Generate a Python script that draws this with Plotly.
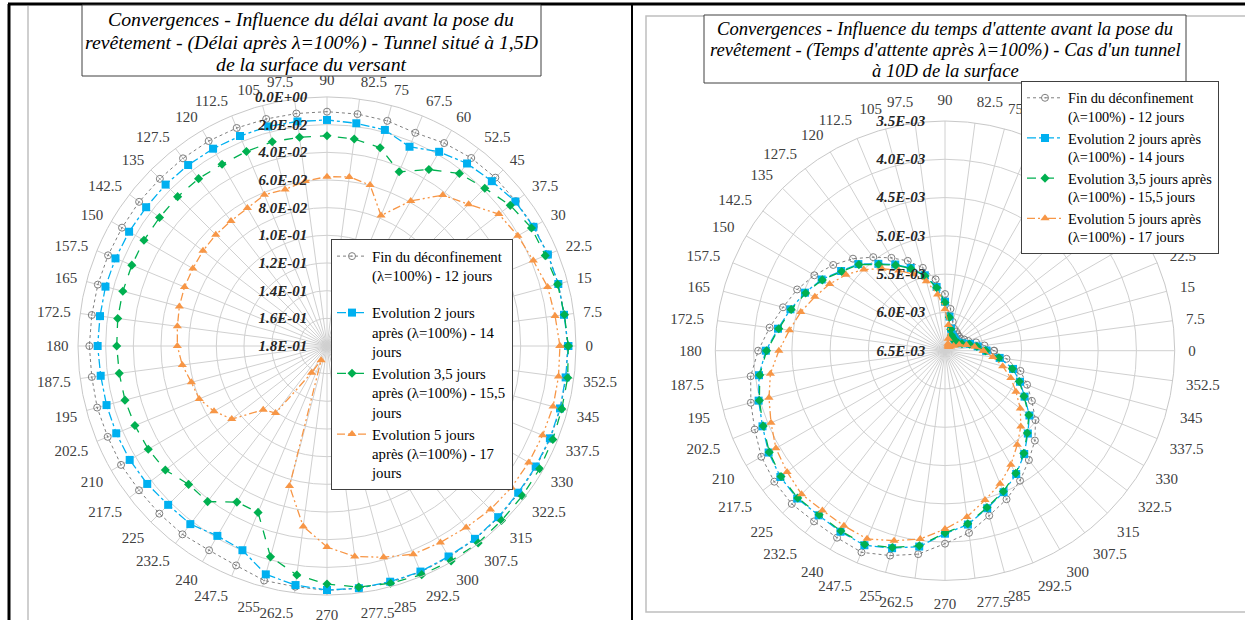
import plotly.graph_objects as go

# ---------------- data ----------------
angles = [i * 7.5 for i in range(48)]
angle_labels = [("%g" % a) for a in angles]

# Left chart (Tunnel situé à 1,5D) - convergences
left_fin = [0.0062, 0.0068, 0.0068, 0.0070, 0.0073, 0.0080, 0.0079, 0.0087, 0.0106, 0.0132, 0.0115, 0.0109,
            0.0106, 0.0105, 0.0101, 0.0094, 0.0089, 0.0090, 0.0091, 0.0088, 0.0089, 0.0087, 0.0085, 0.0085,
            0.0082, 0.0085, 0.0080, 0.0084, 0.0081, 0.0087, 0.0086, 0.0084, 0.0095, 0.0083, 0.0045, 0.0045,
            0.0033, 0.0033, 0.0032, 0.0031, 0.0037, 0.0039, 0.0045, 0.0052, 0.0053, 0.0052, 0.0053, 0.0056]
left_2j = [0.0056, 0.0072, 0.0069, 0.0072, 0.0077, 0.0084, 0.0115, 0.0137, 0.0179, 0.0241, 0.0183, 0.0176,
           0.0166, 0.0163, 0.0157, 0.0157, 0.0153, 0.0151, 0.0150, 0.0152, 0.0148, 0.0145, 0.0142, 0.0145,
           0.0142, 0.0150, 0.0150, 0.0151, 0.0153, 0.0162, 0.0176, 0.0177, 0.0215, 0.0202, 0.0091, 0.0057,
           0.0036, 0.0034, 0.0036, 0.0035, 0.0043, 0.0043, 0.0050, 0.0058, 0.0058, 0.0056, 0.0056, 0.0060]
left_35j = [0.0056, 0.0069, 0.0074, 0.0092, 0.0093, 0.0130, 0.0187, 0.0228, 0.0327, 0.0437, 0.0316, 0.0291,
            0.0280, 0.0278, 0.0271, 0.0278, 0.0283, 0.0275, 0.0273, 0.0274, 0.0272, 0.0273, 0.0272, 0.0274,
            0.0280, 0.0285, 0.0288, 0.0297, 0.0308, 0.0327, 0.0385, 0.0382, 0.0497, 0.0498, 0.0222, 0.0130,
            0.0079, 0.0042, 0.0025, 0.0011, 0.0006, 0.0005, 0.0016, 0.0020, 0.0025, 0.0033, 0.0043, 0.0045]
left_5j = [0.0116, 0.0137, 0.0149, 0.0186, 0.0207, 0.0234, 0.0352, 0.0425, 0.0589, 0.0779, 0.0596, 0.0567,
           0.0576, 0.0597, 0.0629, 0.0617, 0.0649, 0.0660, 0.0663, 0.0670, 0.0680, 0.0685, 0.0695, 0.0709,
           0.0718, 0.0745, 0.0785, 0.0800, 0.0857, 0.0932, 0.1148, 0.1189, 0.1577, 0.1689, 0.0752, 0.0484,
           0.0347, 0.0265, 0.0219, 0.0171, 0.0160, 0.0147, 0.0129, 0.0120, 0.0116, 0.0113, 0.0108, 0.0112]
left_rticks = [0.0, 0.02, 0.04, 0.06, 0.08, 0.10, 0.12, 0.14, 0.16, 0.18]
left_rlabels = ["0.0E+00", "2.0E-02", "4.0E-02", "6.0E-02", "8.0E-02", "1.0E-01", "1.2E-01", "1.4E-01",
                "1.6E-01", "1.8E-01"]

# Right chart (tunnel à 10D) - convergences (x1e-3)
right_fin = [5.86, 5.98, 6.08, 6.17, 6.21, 6.24, 6.24, 6.23, 6.21, 6.19, 6.11, 5.95,
             5.76, 5.56, 5.38, 5.23, 5.10, 4.96, 4.80, 4.66, 4.53, 4.41, 4.31, 4.19,
             4.06, 3.94, 3.875, 3.81, 3.73, 3.69, 3.67, 3.69, 3.68, 3.65, 3.73, 3.82,
             3.98, 4.10, 4.27, 4.40, 4.54, 4.70, 4.84, 5.01, 5.19, 5.34, 5.48, 5.69]
right_2j = [5.96, 6.07, 6.16, 6.25, 6.29, 6.31, 6.31, 6.30, 6.29, 6.27, 6.20, 6.05,
            5.86, 5.66, 5.48, 5.33, 5.20, 5.07, 4.90, 4.79, 4.64, 4.52, 4.41, 4.30,
            4.16, 4.05, 3.98, 3.92, 3.84, 3.79, 3.77, 3.79, 3.77, 3.75, 3.83, 3.92,
            4.11, 4.21, 4.37, 4.50, 4.64, 4.80, 4.97, 5.11, 5.30, 5.44, 5.58, 5.78]
right_35j = [5.97, 6.08, 6.17, 6.26, 6.30, 6.32, 6.32, 6.31, 6.30, 6.28, 6.21, 6.06,
             5.87, 5.67, 5.49, 5.34, 5.21, 5.08, 4.91, 4.80, 4.65, 4.53, 4.42, 4.31,
             4.17, 4.06, 3.99, 3.93, 3.85, 3.80, 3.78, 3.80, 3.78, 3.76, 3.84, 3.93,
             4.12, 4.22, 4.38, 4.51, 4.65, 4.81, 4.98, 5.12, 5.31, 5.45, 5.59, 5.79]
right_5j = [6.00, 6.11, 6.21, 6.30, 6.37, 6.41, 6.43, 6.43, 6.42, 6.40, 6.34, 6.16,
            5.96, 5.76, 5.56, 5.42, 5.29, 5.15, 5.00, 4.87, 4.76, 4.66, 4.55, 4.45,
            4.33, 4.20, 4.12, 4.04, 3.95, 3.90, 3.85, 3.87, 3.86, 3.84, 3.93, 4.02,
            4.17, 4.31, 4.48, 4.62, 4.78, 4.95, 5.10, 5.26, 5.43, 5.57, 5.72, 5.87]
right_rticks = [3.5e-3, 4.0e-3, 4.5e-3, 5.0e-3, 5.5e-3, 6.0e-3, 6.5e-3]
right_rlabels = ["3.5E-03", "4.0E-03", "4.5E-03", "5.0E-03", "5.5E-03", "6.0E-03", "6.5E-03"]

left_title = ["Convergences - Influence du délai avant la pose du",
              "revêtement - (Délai après λ=100%) - Tunnel situé à 1,5D",
              "de la surface du versant"]
right_title = ["Convergences - Influence du temps d'attente avant la pose du",
               "revêtement - (Temps d'attente après λ=100%) - Cas d'un tunnel",
               "à 10D de la surface"]

left_names = ["Fin du déconfinement<br>(λ=100%) - 12 jours",
              "Evolution 2 jours<br>après (λ=100%) - 14<br>jours",
              "Evolution 3,5 jours<br>après (λ=100%) - 15,5<br>jours",
              "Evolution 5 jours<br>après (λ=100%) - 17<br>jours"]
left_groups = ["a", "b", "b", "b"]
right_names = ["Fin du déconfinement<br>(λ=100%) - 12 jours",
               "Evolution 2 jours après<br>(λ=100%) - 14 jours",
               "Evolution 3,5 jours après<br>(λ=100%) - 15,5 jours",
               "Evolution 5 jours après<br>(λ=100%) - 17 jours"]

# ---------------- styles ----------------
FONT = "Liberation Serif"
W, H = 1245, 620
styles = [
    dict(line=dict(color="#7f7f7f", width=1, dash="dot"),
         marker=dict(symbol="circle-open-dot", size=7, color="#7f7f7f", line=dict(width=1, color="#7f7f7f"))),
    dict(line=dict(color="#00b0f0", width=1.3, dash="dashdot"),
         marker=dict(symbol="square", size=8, color="#00b0f0")),
    dict(line=dict(color="#00b050", width=1.3, dash="dash"),
         marker=dict(symbol="diamond", size=7, color="#00b050")),
    dict(line=dict(color="#f79646", width=1.3, dash="8px,3px,2px,3px,2px,3px"),
         marker=dict(symbol="triangle-up", size=8, color="#f79646")),
]


def closed(vals):
    return list(vals) + [vals[0]]


theta_c = closed(angles)

fig = go.Figure()
for vals, name, st, g in zip([left_fin, left_2j, left_35j, left_5j], left_names, styles, left_groups):
    fig.add_trace(go.Scatterpolar(r=closed(vals), theta=theta_c, mode="lines+markers", name=name,
                                  legendgroup=g, subplot="polar", legend="legend", cliponaxis=False, **st))
for vals, name, st in zip([right_fin, right_2j, right_35j, right_5j], right_names, styles):
    fig.add_trace(go.Scatterpolar(r=closed([v * 1e-3 for v in vals]), theta=theta_c, mode="lines+markers",
                                  name=name, subplot="polar2", legend="legend2", cliponaxis=False, **st))


def px(x):
    return x / W


def py(y):
    return 1 - y / H


def polar_layout(cx, cy, R, rrange, rticks, rlabels, alen):
    return dict(
        domain=dict(x=[px(cx - R), px(cx + R)], y=[py(cy + R), py(cy - R)]),
        bgcolor="white",
        angularaxis=dict(direction="counterclockwise", rotation=0, tickmode="array",
                         tickvals=angles, ticktext=angle_labels, ticks="outside", ticklen=alen,
                         tickcolor="rgba(0,0,0,0)",
                         tickfont=dict(family=FONT, size=15, color="#404040"),
                         showline=True, linecolor="#c8c8c8", linewidth=1,
                         gridcolor="#d0d0d0", gridwidth=1),
        radialaxis=dict(range=rrange, angle=90, side="counterclockwise", tickmode="array",
                        tickvals=rticks, ticktext=rlabels, ticks="outside", ticklen=14,
                        tickcolor="rgba(0,0,0,0)", showline=False,
                        tickangle=90,
                        tickfont=dict(family=FONT, size=15, color="#262626", weight="bold", style="italic"),
                        gridcolor="#d0d0d0", gridwidth=1),
    )


fig.update_layout(
    width=W, height=H,
    margin=dict(l=0, r=0, t=0, b=0),
    paper_bgcolor="white",
    plot_bgcolor="white",
    font=dict(family=FONT),
    polar=polar_layout(327, 346, 249, [0.18, 0.0], left_rticks, left_rlabels, 6),
    polar2=polar_layout(945, 350.7, 229.7, [6.5e-3, 3.5e-3], right_rticks, right_rlabels, 10),
    legend=dict(x=px(331), y=py(239), xanchor="left", yanchor="top",
                bgcolor="white", bordercolor="#404040", borderwidth=1,
                font=dict(family=FONT, size=14.8, color="black"), valign="top",
                tracegroupgap=15, itemwidth=30),
    legend2=dict(x=px(1021), y=py(81), xanchor="left", yanchor="top",
                 bgcolor="white", bordercolor="#404040", borderwidth=1,
                 font=dict(family=FONT, size=14.3, color="black"), valign="top",
                 tracegroupgap=0, itemwidth=36),
    showlegend=True,
)

shapes = [
    dict(type="line", x0=px(8), x1=px(1245), y0=py(4), y1=py(4), line=dict(color="black", width=3)),
    dict(type="line", x0=px(9), x1=px(9), y0=py(4), y1=py(620), line=dict(color="black", width=3)),
    dict(type="line", x0=px(632), x1=px(632), y0=py(4), y1=py(620), line=dict(color="black", width=2)),
    dict(type="line", x0=px(28), x1=px(28), y0=py(6), y1=py(620), line=dict(color="#bfbfbf", width=1.5)),
    dict(type="rect", x0=px(646), x1=px(1250), y0=py(16), y1=py(612), line=dict(color="#bfbfbf", width=1.5)),
    dict(type="rect", x0=px(82), x1=px(541), y0=py(5), y1=py(76), line=dict(color="#404040", width=1),
         fillcolor="white"),
    dict(type="rect", x0=px(704), x1=px(1186), y0=py(15), y1=py(83), line=dict(color="#404040", width=1),
         fillcolor="white"),
]
for s in shapes:
    s["xref"] = "paper"
    s["yref"] = "paper"
    s["layer"] = "above" if s["type"] == "rect" and s.get("fillcolor") else "below"
fig.update_layout(shapes=shapes)

annotations = []
for i, t in enumerate(left_title):
    annotations.append(dict(x=px(311), y=py([19, 42, 64][i]), text=t, showarrow=False, xref="paper",
                            yref="paper", xanchor="center", yanchor="middle",
                            font=dict(family=FONT, size=19.8, color="black", style="italic")))
for i, t in enumerate(right_title):
    annotations.append(dict(x=px(945), y=py([28, 50, 71][i]), text=t, showarrow=False, xref="paper",
                            yref="paper", xanchor="center", yanchor="middle",
                            font=dict(family=FONT, size=18.6, color="black", style="italic")))
fig.update_layout(annotations=annotations)

fig.write_html("out.html", post_script="document.body.style.margin='0px';",
               config={"displayModeBar": False})
